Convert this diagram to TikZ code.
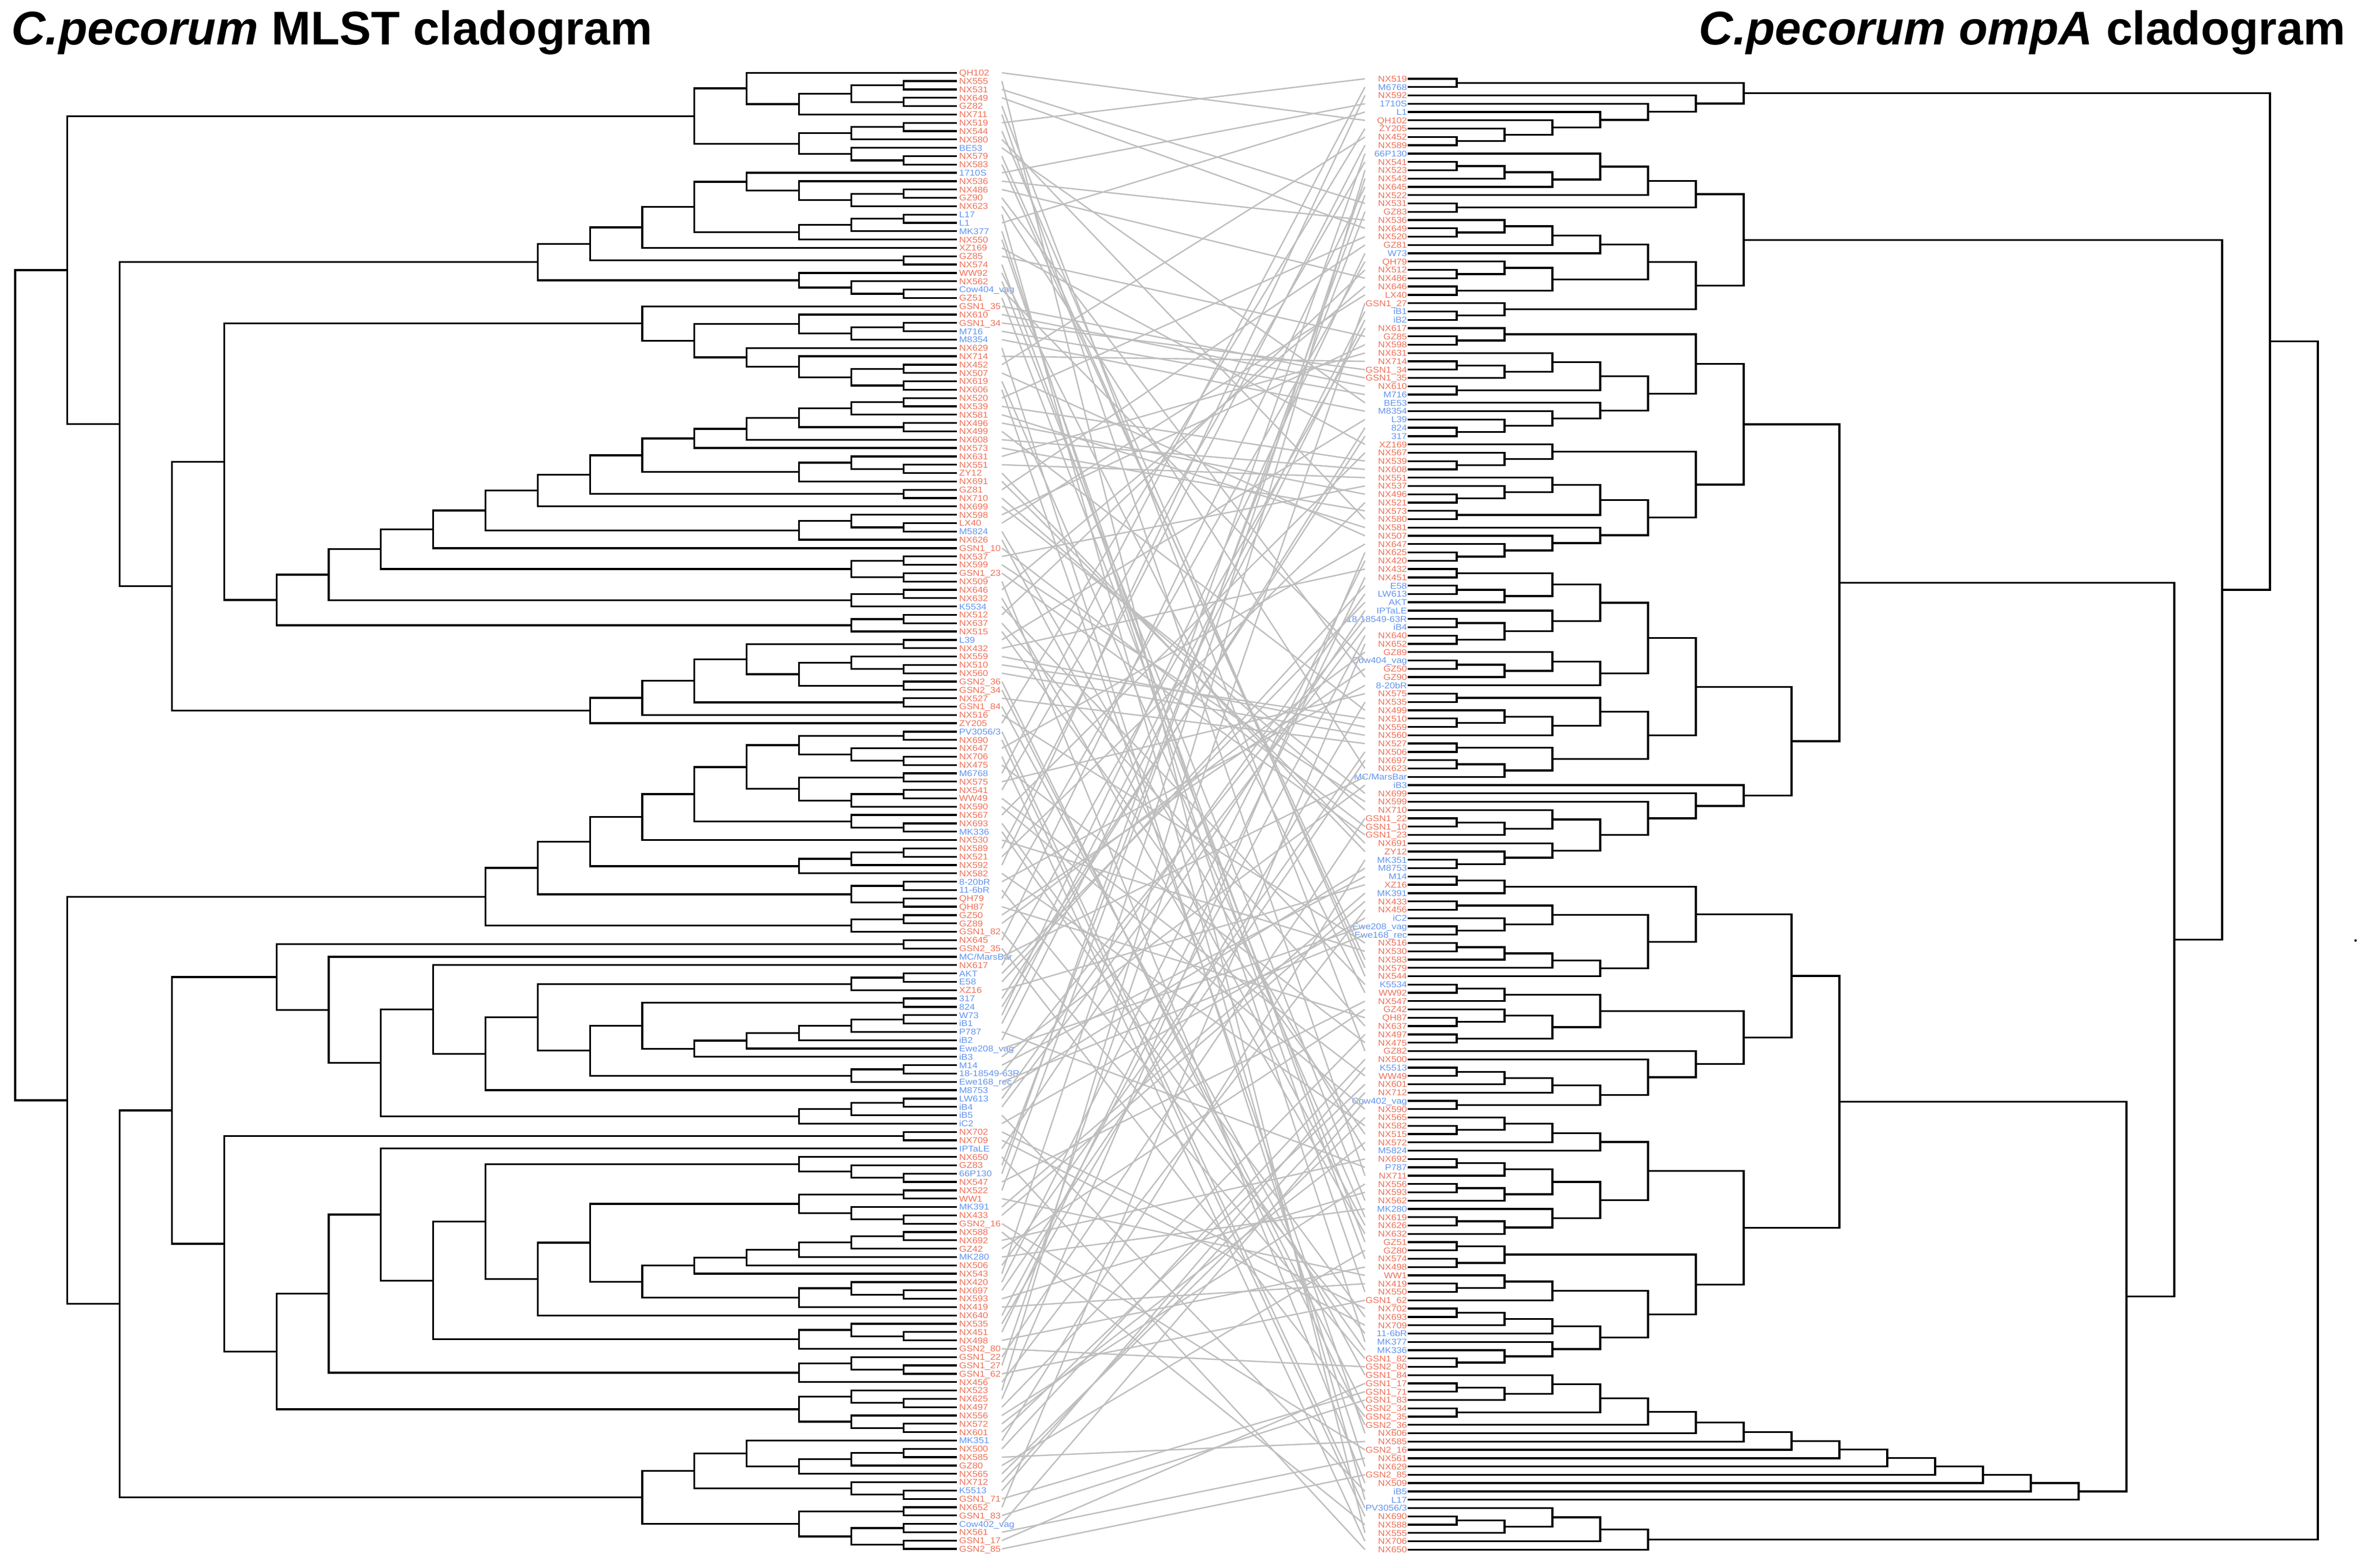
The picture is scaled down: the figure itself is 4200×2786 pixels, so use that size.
\documentclass[tikz,border=0pt]{standalone}
\usepackage{fontspec}
\setmainfont{Liberation Sans}
\newfontfamily\labfont[FakeStretch=1.12]{Liberation Sans}
\definecolor{labred}{RGB}{238,112,88}
\definecolor{labblue}{RGB}{100,149,237}
\definecolor{linkgrey}{RGB}{190,190,190}
\tikzset{treeline/.style={line width=3.3pt,line cap=rect},
  linkline/.style={draw=linkgrey,line width=2.4pt},
  leaflab/.style={inner sep=0pt,font=\labfont\fontsize{15}{15}\selectfont}}
\makeatletter
\newcount\trD \newcount\trN \newcount\trH \newcount\trMaxH \newcount\trRootH
\newdimen\trF \newdimen\trL \newdimen\trY \newdimen\trX \newdimen\trCX \newdimen\trRootY
\newdimen\trXzero \newdimen\trXroot \newdimen\trStep \newdimen\trYzero \newdimen\trDY
\newif\iftrfirst \newif\iftrdraw
\def\trend{\trend@mark}
\def\trparse#1{%
  \ifx#1\trend
    \let\trnext\relax
  \else
    \let\trnext\trparse
    \ifx#1(\tropen\fi
    \ifx#1)\trclose\fi
    \ifx#1x\trleaf\fi
  \fi
  \trnext}
\def\tropen{\global\advance\trD 1
  \expandafter\gdef\csname trk@\the\trD\endcsname{}}
\def\trappend#1#2{%
  \expandafter\let\expandafter\trtmp\csname trk@\the\trD\endcsname
  \expandafter\xdef\csname trk@\the\trD\endcsname{\unexpanded\expandafter{\trtmp}\noexpand\trkid{#1}{#2}}}
\def\trleaf{\global\advance\trN 1
  \trY=\trDY \multiply\trY by \numexpr\trN-1\relax
  \advance\trY by \trYzero
  \trappend{0}{\the\trY}}
\def\trkidA#1#2{%
  \ifnum#1>\trMaxH \trMaxH=#1\relax\fi
  \iftrfirst \trF=#2\relax \trfirstfalse\fi
  \trL=#2\relax}
\def\trkidB#1#2{%
  \trCX=\trStep \multiply\trCX by #1\relax \advance\trCX by \trXzero
  \draw[treeline] (\the\trCX,#2) -- (\the\trX,#2);}
\def\trclose{%
  \trMaxH=0 \trfirsttrue
  \let\trkid\trkidA
  \csname trk@\the\trD\endcsname
  \trH=\trMaxH \advance\trH 1
  \trX=\trStep \multiply\trX by \trH \advance\trX by \trXzero
  \iftrdraw
    \draw[treeline] (\the\trX,\the\trF) -- (\the\trX,\the\trL);
    \let\trkid\trkidB
    \csname trk@\the\trD\endcsname
  \fi
  \trY=\trF \advance\trY by \trL \divide\trY by 2
  \global\advance\trD -1
  \ifnum\trD>0 \trappend{\the\trH}{\the\trY}\else \global\trRootH=\trH \global\trRootY=\trY\fi}
\newcount\lbN \newdimen\lbY
\def\setlbY{\lbY=\trDY \multiply\lbY by \numexpr\lbN-1\relax \advance\lbY by \trYzero}
\def\leftlab#1#2{\global\advance\lbN 1 \setlbY
  \node[leaflab,text=#1,anchor=base west] (ln-#2) at (1704pt,\the\dimexpr\lbY-5.4pt\relax) {#2};
  \coordinate (l-#2) at (1780pt,\the\lbY);}
\def\rightlab#1#2{\global\advance\lbN 1 \setlbY
  \node[leaflab,text=#1,anchor=base east] (rn-#2) at (2500pt,\the\dimexpr\lbY-5.4pt\relax) {#2};
  \coordinate (r-#2) at (2425pt,\the\lbY);}
\def\linkit#1{\ifcsname pgf@sh@ns@l-#1\endcsname\ifcsname pgf@sh@ns@r-#1\endcsname
  \draw[linkline] (l-#1) -- (r-#1);\fi\fi}
\makeatother
\def\trlad#1#2{\edef#1{(#1,#2)}}
\def\trpre#1#2{\edef#1{(#2,#1)}}
% ================= LEFT TREE (leaves in order, x = one leaf)
\def\tqLone{((x1,(((x2,x3),(x4,x5)),x6)),(((x7,x8),x9),(x10,(x11,x12))))}
\def\tqLcab{(((((x13,(x14,((x15,x16),x17))),(((x18,x19),x20),x21)),x22),(x23,x24)),(x25,(x26,(x27,x28))))}
\def\tqLP{(x29,((x30,((x31,x32),x33)),(x34,(x35,((x36,x37),(x38,x39))))))}
\def\tqLS{(((x40,x41),x42),(x43,x44))}
\trlad\tqLS{x45}\trlad\tqLS{x46}\trlad\tqLS{((x47,(x48,x49)),x50)}\trlad\tqLS{(x51,x52)}
\trlad\tqLS{x53}\trlad\tqLS{((x54,(x55,x56)),x57)}\trlad\tqLS{x58}
\trlad\tqLS{((x59,x60),(x61,x62))}\trlad\tqLS{((x63,x64),x65)}\trlad\tqLS{((x66,x67),x68)}
\edef\tqLmid{(\tqLP,\tqLS)}
\def\tqLsf{(((((x69,x70),((x71,(x72,x73)),(x74,x75))),(x76,x77)),x78),x79)}
\edef\tqLupper{(\tqLone,(\tqLcab,(\tqLmid,\tqLsf)))}
\def\tqLCA{(((x80,x81),(x82,(x83,x84))),((x85,x86),((x87,x88),x89)))}
\trlad\tqLCA{(x90,(x91,x92))}\trlad\tqLCA{x93}\trlad\tqLCA{(((x94,x95),x96),x97)}
\trlad\tqLCA{((x98,x99),(x100,x101))}\trlad\tqLCA{((x102,x103),x104)}
\def\tqLX{(((x114,x115),x116),x117)}
\trlad\tqLX{x118}\trlad\tqLX{x119}\trpre\tqLX{(x112,x113)}
\trlad\tqLX{((x120,x121),x122)}\trpre\tqLX{((x109,x110),x111)}
\trlad\tqLX{x123}\trpre\tqLX{x108}\trlad\tqLX{(((x124,x125),x126),x127)}
\trpre\tqLX{x107}\trpre\tqLX{(x105,x106)}
\def\tqLC{((((x140,x141),x142),x143),x144)}
\trlad\tqLC{x145}
\trlad\tqLC{((x146,(x147,x148)),x149)}
\trpre\tqLC{((x135,x136),(x137,(x138,x139)))}
\trlad\tqLC{x150}
\trpre\tqLC{(x131,(x132,(x133,x134)))}
\trlad\tqLC{((x151,(x152,x153)),x154)}
\trpre\tqLC{x130}
\trlad\tqLC{((x155,(x156,x157)),x158)}
\trlad\tqLC{((x159,(x160,x161)),(x162,(x163,x164)))}
\trpre\tqLC{(x128,x129)}
\def\tqLCb{(((x165,(((x166,x167),x168),x169)),(x170,(x171,x172))),((x173,x174),((x175,x176),(x177,x178))))}
\edef\tqLlower{(\tqLCA,((\tqLX,\tqLC),\tqLCb))}
\edef\lefttree{(\tqLupper,\tqLlower)}
% ================= RIGHT TREE
\def\tqRA{((x1,x2),(x3,(x4,(x5,(x6,(x7,(x8,x9)))))))}
\def\tqRPa{(((x10,(((x11,x12),x13),x14)),x15),(x16,x17))}
\def\tqRPb{(((((x18,(x19,x20)),x21),x22),((x23,(x24,x25)),(x26,x27))),(x28,(x29,x30)))}
\def\tqRb{((x31,(x32,x33)),(((x34,((x35,x36),x37)),(x38,x39)),(x40,(x41,(x42,(x43,x44))))))}
\def\tqRc{((x45,(x46,(x47,x48))),(((x49,(x50,(x51,x52))),(x53,x54)),(x55,(x56,(x57,(x58,x59))))))}
\def\tqRd{((( ((x60,x61),((x62,x63),x64)) , (x65,((x66,x67),(x68,x69))) ),( (x70,((x71,x72),x73)) ,x74)),(( (x75,x76) , ((x77,(x78,x79)),x80) ), ((x81,x82),((x83,x84),x85)) ))}
\def\tqRe{(x86,(x87,(x88,((x89,((x90,x91),x92)),(x93,(x94,(x95,x96)))))))}
\def\tqRf{(((x97,x98),x99),(((x100,x101),(x102,(x103,x104))),((((x105,x106),x107),x108),x109)))}
\def\tqRg{((((x110,x111),x112),((x113,(x114,x115)),(x116,x117))),(x118,(x119,((((x120,x121),x122),x123),(x124,x125)))))}
\def\tqRh{((((x126,(x127,x128)),x129),x130),((((x131,x132),x133),((x134,x135),x136)),(x137,((x138,x139),x140))))}
\def\tqRi{(((x141,x142),(x143,x144)),(((x145,(x146,x147)),x148),((((x149,x150),x151),x152),(x153,(x154,(x155,x156))))))}
\def\tqRj{((x157,((x158,x159),x160)),(x161,x162))}
\trlad\tqRj{x163}\trlad\tqRj{x164}\trlad\tqRj{x165}\trlad\tqRj{x166}\trlad\tqRj{x167}
\trlad\tqRj{x168}\trlad\tqRj{x169}\trlad\tqRj{x170}\trlad\tqRj{x171}\trlad\tqRj{x172}
\edef\tqRBtwo{(((\tqRb,\tqRc),(\tqRd,\tqRe)),(((\tqRf,\tqRg),(\tqRh,\tqRi)),\tqRj))}
\def\tqRbot{(((x173,((x174,x175),x176)),x177),x178)}
\edef\righttree{((\tqRA,((\tqRPa,\tqRPb),\tqRBtwo)),\tqRbot)}
% ================= LABELS
\catcode`\_=12
\def\leftlist{\rd{QH102}\rd{NX555}\rd{NX531}\rd{NX649}\rd{GZ82}\rd{NX711}\rd{NX519}\rd{NX544}\rd{NX580}\bl{BE53}\rd{NX579}\rd{NX583}\bl{1710S}\rd{NX536}\rd{NX486}\rd{GZ90}\rd{NX623}\bl{L17}\bl{L1}\bl{MK377}\rd{NX550}\rd{XZ169}\rd{GZ85}\rd{NX574}\rd{WW92}\rd{NX562}\bl{Cow404_vag}\rd{GZ51}\rd{GSN1_35}\rd{NX610}\rd{GSN1_34}\bl{M716}\bl{M8354}\rd{NX629}\rd{NX714}\rd{NX452}\rd{NX507}\rd{NX619}\rd{NX606}\rd{NX520}\rd{NX539}\rd{NX581}\rd{NX496}\rd{NX499}\rd{NX608}\rd{NX573}\rd{NX631}\rd{NX551}\rd{ZY12}\rd{NX691}\rd{GZ81}\rd{NX710}\rd{NX699}\rd{NX598}\rd{LX40}\bl{M5824}\rd{NX626}\rd{GSN1_10}\rd{NX537}\rd{NX599}\rd{GSN1_23}\rd{NX509}\rd{NX646}\rd{NX632}\bl{K5534}\rd{NX512}\rd{NX637}\rd{NX515}\bl{L39}\rd{NX432}\rd{NX559}\rd{NX510}\rd{NX560}\rd{GSN2_36}\rd{GSN2_34}\rd{NX527}\rd{GSN1_84}\rd{NX516}\rd{ZY205}\bl{PV3056/3}\rd{NX690}\rd{NX647}\rd{NX706}\rd{NX475}\bl{M6768}\rd{NX575}\rd{NX541}\rd{WW49}\rd{NX590}\rd{NX567}\rd{NX693}\bl{MK336}\rd{NX530}\rd{NX589}\rd{NX521}\rd{NX592}\rd{NX582}\bl{8-20bR}\bl{11-6bR}\rd{QH79}\rd{QH87}\rd{GZ50}\rd{GZ89}\rd{GSN1_82}\rd{NX645}\rd{GSN2_35}\bl{MC/MarsBar}\rd{NX617}\bl{AKT}\bl{E58}\rd{XZ16}\bl{317}\bl{824}\bl{W73}\bl{iB1}\bl{P787}\bl{iB2}\bl{Ewe208_vag}\bl{iB3}\bl{M14}\bl{18-18549-63R}\bl{Ewe168_rec}\bl{M8753}\bl{LW613}\bl{iB4}\bl{iB5}\bl{iC2}\rd{NX702}\rd{NX709}\bl{IPTaLE}\rd{NX650}\rd{GZ83}\bl{66P130}\rd{NX547}\rd{NX522}\rd{WW1}\bl{MK391}\rd{NX433}\rd{GSN2_16}\rd{NX588}\rd{NX692}\rd{GZ42}\bl{MK280}\rd{NX506}\rd{NX543}\rd{NX420}\rd{NX697}\rd{NX593}\rd{NX419}\rd{NX640}\rd{NX535}\rd{NX451}\rd{NX498}\rd{GSN2_80}\rd{GSN1_22}\rd{GSN1_27}\rd{GSN1_62}\rd{NX456}\rd{NX523}\rd{NX625}\rd{NX497}\rd{NX556}\rd{NX572}\rd{NX601}\bl{MK351}\rd{NX500}\rd{NX585}\rd{GZ80}\rd{NX565}\rd{NX712}\bl{K5513}\rd{GSN1_71}\rd{NX652}\rd{GSN1_83}\bl{Cow402_vag}\rd{NX561}\rd{GSN1_17}\rd{GSN2_85}}
\def\rightlist{\rd{NX519}\bl{M6768}\rd{NX592}\bl{1710S}\bl{L1}\rd{QH102}\rd{ZY205}\rd{NX452}\rd{NX589}\bl{66P130}\rd{NX541}\rd{NX523}\rd{NX543}\rd{NX645}\rd{NX522}\rd{NX531}\rd{GZ83}\rd{NX536}\rd{NX649}\rd{NX520}\rd{GZ81}\bl{W73}\rd{QH79}\rd{NX512}\rd{NX486}\rd{NX646}\rd{LX40}\rd{GSN1_27}\bl{iB1}\bl{iB2}\rd{NX617}\rd{GZ85}\rd{NX598}\rd{NX631}\rd{NX714}\rd{GSN1_34}\rd{GSN1_35}\rd{NX610}\bl{M716}\bl{BE53}\bl{M8354}\bl{L39}\bl{824}\bl{317}\rd{XZ169}\rd{NX567}\rd{NX539}\rd{NX608}\rd{NX551}\rd{NX537}\rd{NX496}\rd{NX521}\rd{NX573}\rd{NX580}\rd{NX581}\rd{NX507}\rd{NX647}\rd{NX625}\rd{NX420}\rd{NX432}\rd{NX451}\bl{E58}\bl{LW613}\bl{AKT}\bl{IPTaLE}\bl{18-18549-63R}\bl{iB4}\rd{NX640}\rd{NX652}\rd{GZ89}\bl{Cow404_vag}\rd{GZ50}\rd{GZ90}\bl{8-20bR}\rd{NX575}\rd{NX535}\rd{NX499}\rd{NX510}\rd{NX559}\rd{NX560}\rd{NX527}\rd{NX506}\rd{NX697}\rd{NX623}\bl{MC/MarsBar}\bl{iB3}\rd{NX699}\rd{NX599}\rd{NX710}\rd{GSN1_22}\rd{GSN1_10}\rd{GSN1_23}\rd{NX691}\rd{ZY12}\bl{MK351}\bl{M8753}\bl{M14}\rd{XZ16}\bl{MK391}\rd{NX433}\rd{NX456}\bl{iC2}\bl{Ewe208_vag}\bl{Ewe168_rec}\rd{NX516}\rd{NX530}\rd{NX583}\rd{NX579}\rd{NX544}\bl{K5534}\rd{WW92}\rd{NX547}\rd{GZ42}\rd{QH87}\rd{NX637}\rd{NX497}\rd{NX475}\rd{GZ82}\rd{NX500}\bl{K5513}\rd{WW49}\rd{NX601}\rd{NX712}\bl{Cow402_vag}\rd{NX590}\rd{NX565}\rd{NX582}\rd{NX515}\rd{NX572}\bl{M5824}\rd{NX692}\bl{P787}\rd{NX711}\rd{NX556}\rd{NX593}\rd{NX562}\bl{MK280}\rd{NX619}\rd{NX626}\rd{NX632}\rd{GZ51}\rd{GZ80}\rd{NX574}\rd{NX498}\rd{WW1}\rd{NX419}\rd{NX550}\rd{GSN1_62}\rd{NX702}\rd{NX693}\rd{NX709}\bl{11-6bR}\bl{MK377}\bl{MK336}\rd{GSN1_82}\rd{GSN2_80}\rd{GSN1_84}\rd{GSN1_17}\rd{GSN1_71}\rd{GSN1_83}\rd{GSN2_34}\rd{GSN2_35}\rd{GSN2_36}\rd{NX606}\rd{NX585}\rd{GSN2_16}\rd{NX561}\rd{NX629}\rd{GSN2_85}\rd{NX509}\bl{iB5}\bl{L17}\bl{PV3056/3}\rd{NX690}\rd{NX588}\rd{NX555}\rd{NX706}\rd{NX650}}
\catcode`\_=8
\begin{document}
\begin{tikzpicture}
\path[use as bounding box, fill=white] (0pt,0pt) rectangle (4200pt,-2786pt);
\node[anchor=base west,inner sep=0pt,font=\fontsize{84}{84}\selectfont\bfseries] (titleL) at (20pt,-80pt) {\textit{C.pecorum} MLST cladogram};
\node[anchor=base east,inner sep=0pt,font=\fontsize{84}{84}\selectfont\bfseries] (titleR) at (4167pt,-80pt) {\textit{C.pecorum ompA} cladogram};
% left tree
\trXzero=1698pt \trXroot=27pt \trYzero=-129.3pt \trDY=-14.818pt
\global\trN=0 \global\trD=0 \global\trRootH=0 \trdrawfalse
\expandafter\trparse\lefttree\trend
\ifnum\trRootH<1 \global\trRootH=1 \fi
\trStep=\trXroot \advance\trStep by -\trXzero \divide\trStep by \trRootH
\global\trN=0 \global\trD=0 \trdrawtrue
\expandafter\trparse\lefttree\trend
\global\lbN=0
\def\rd{\leftlab{labred}}\def\bl{\leftlab{labblue}}
\leftlist
% right tree
\trXzero=2503pt \trXroot=4118pt \trYzero=-140pt \trDY=-14.764pt
\global\trN=0 \global\trD=0 \global\trRootH=0 \trdrawfalse
\expandafter\trparse\righttree\trend
\ifnum\trRootH<1 \global\trRootH=1 \fi
\trStep=\trXroot \advance\trStep by -\trXzero \divide\trStep by \trRootH
\global\trN=0 \global\trD=0 \trdrawtrue
\expandafter\trparse\righttree\trend
\fill (4185pt,\the\trRootY) circle[radius=2.2pt] coordinate (rootdot);
\global\lbN=0
\def\rd{\rightlab{labred}}\def\bl{\rightlab{labblue}}
\rightlist
% links
\def\rd{\linkit}\def\bl{\linkit}
\rightlist
\end{tikzpicture}
\end{document}
